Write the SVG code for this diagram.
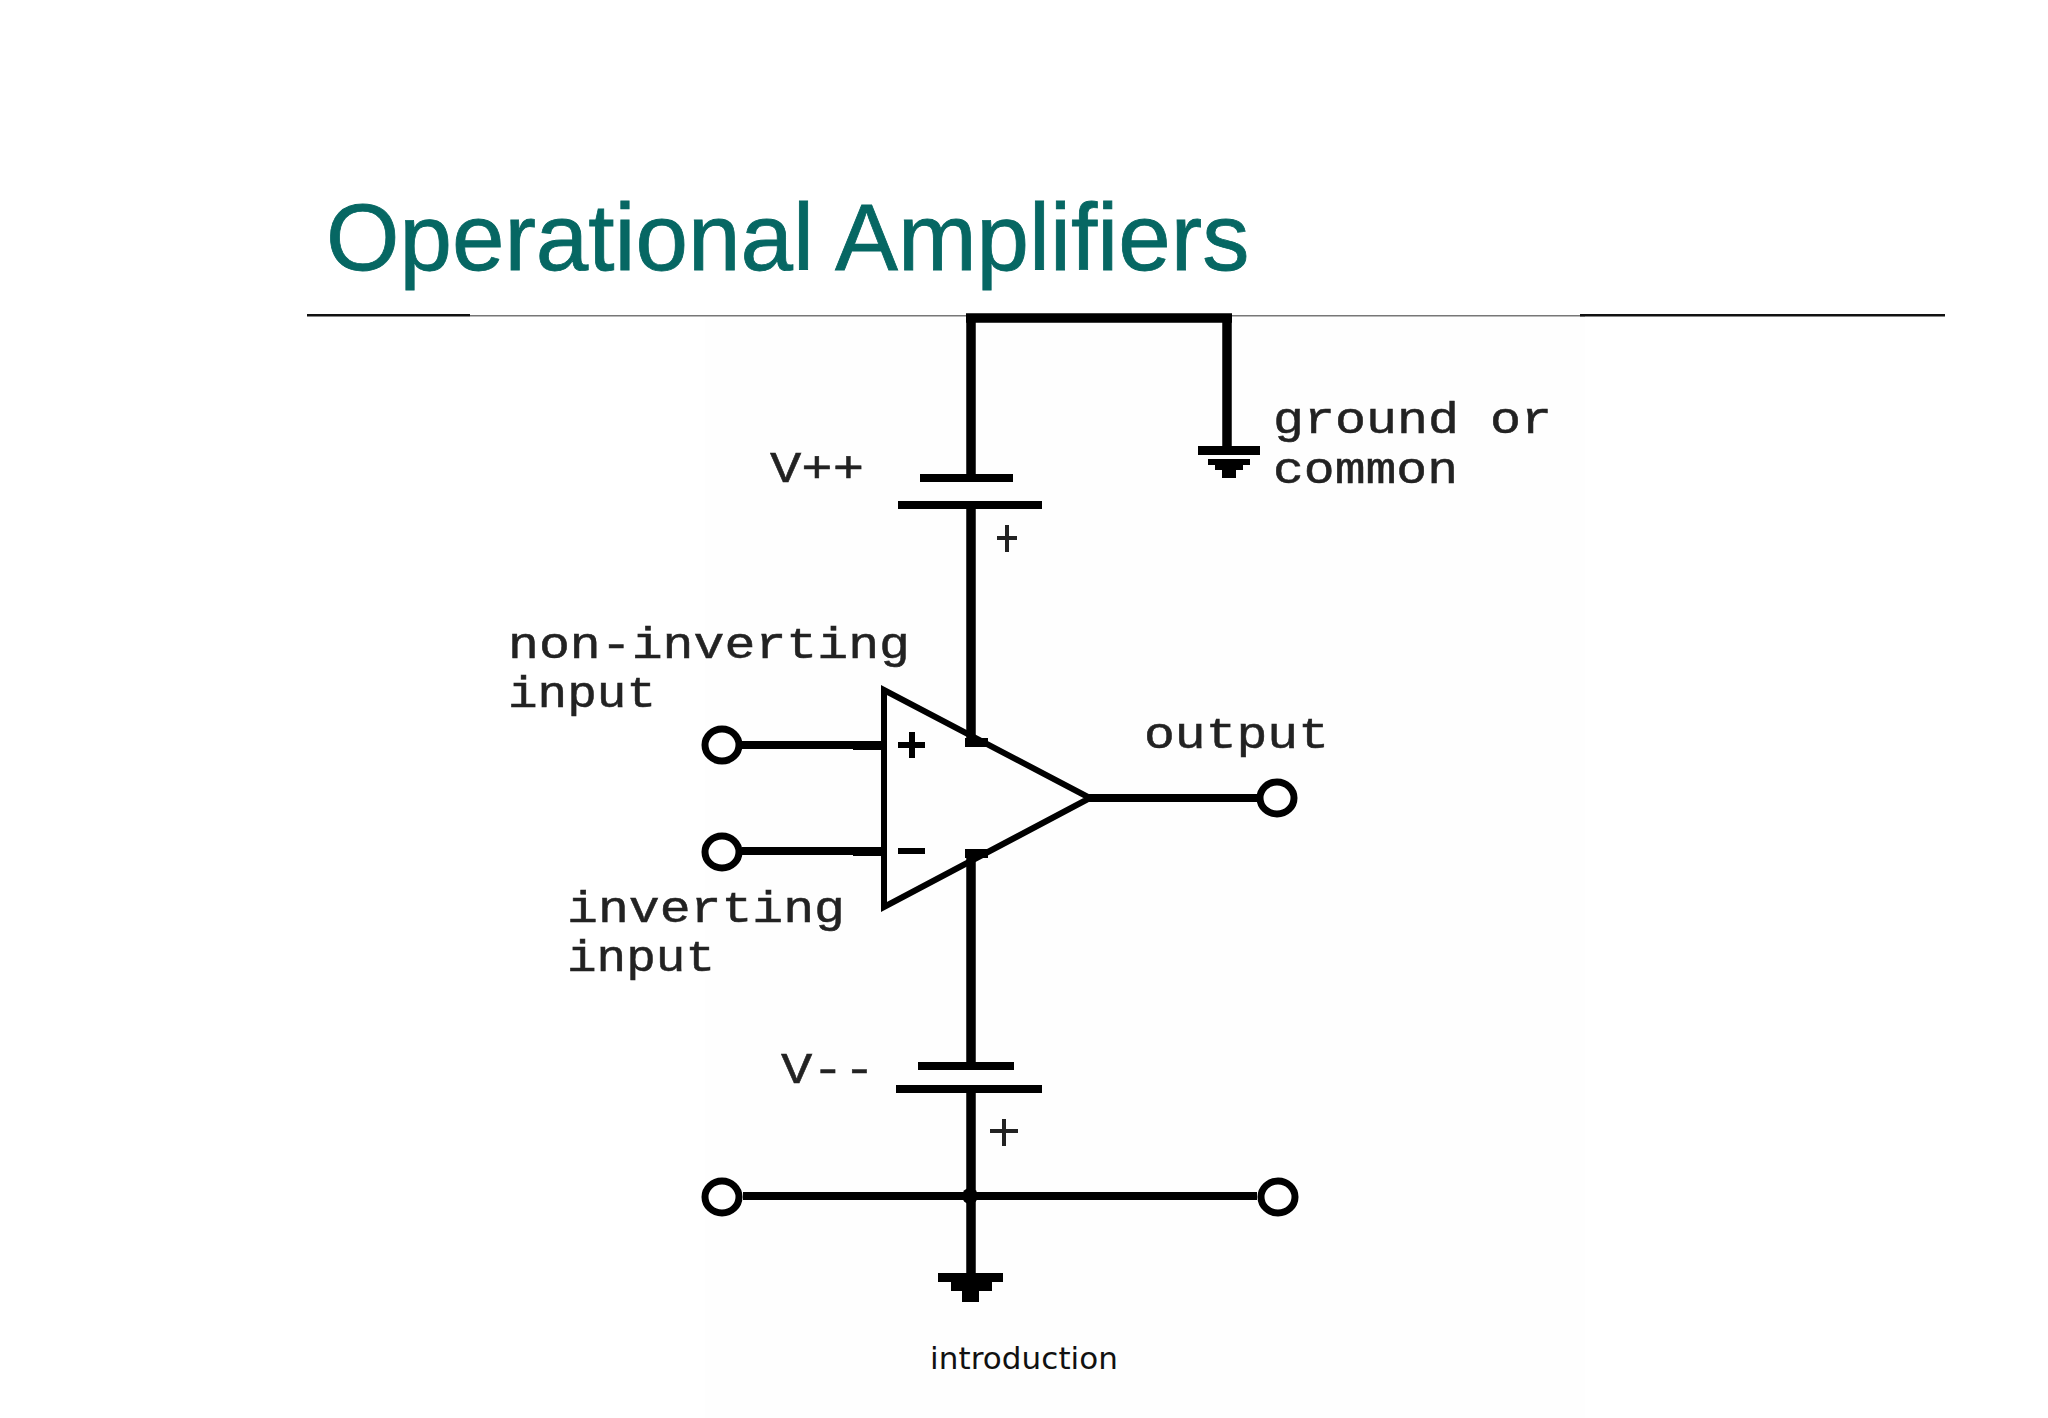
<svg xmlns="http://www.w3.org/2000/svg" width="2048" height="1418" viewBox="0 0 2048 1418">
<defs>
<style>
.w{stroke:#000;fill:none;stroke-width:9.500}
.t{stroke:#000;fill:none;stroke-width:8}
.c{stroke:#000;fill:#fff;stroke-width:7}
.f{fill:#000;stroke:none}
.l{font-family:"Liberation Mono",monospace;font-size:44px;fill:#222;stroke:#222;stroke-width:.5}
</style>
<filter id="soft" x="-5%" y="-5%" width="110%" height="110%"><feGaussianBlur stdDeviation="0.7"/></filter>
</defs>
<rect width="2048" height="1418" fill="#fff"/>
<rect x="705" y="316" width="880" height="1102" fill="#fefefe"/>
<text id="title" x="326" y="270" font-family="'Liberation Sans',Arial,sans-serif" font-size="94.400" fill="#066763" stroke="#066763" stroke-width="0.800">Operational Amplifiers</text>
<g id="rule">
<rect x="307" y="314" width="163" height="2.500" fill="#111"/>
<rect x="470" y="315" width="1115" height="1.500" fill="#777"/>
<rect x="1580" y="314" width="365" height="2.500" fill="#111"/>
</g>
<g filter="url(#soft)">
<g id="connectors">
<path class="w" d="M971 315V476M966 318H1232M1227 315V447M971 508V742M971 855V1064M971 1092V1274"/>
<path class="t" d="M742 745H884M742 851H884M1088 798H1258M743 1196H1257"/>
<rect class="f" x="853" y="741" width="30" height="9"/>
<rect class="f" x="853" y="847" width="30" height="9"/>
</g>
<g id="opamp">
<path d="M884 690V907L1090 798Z" fill="none" stroke="#000" stroke-width="6" stroke-linejoin="miter"/>
<path class="f" d="M965 738H988V747H965ZM965 849H988V858H965Z"/>
<path d="M898 745H925M912 732V758M898 851H925" stroke="#000" stroke-width="6" fill="none"/>
</g>
<g id="cap-top"><rect class="f" x="920" y="474" width="93" height="8"/><rect class="f" x="898" y="501" width="144" height="8"/><path d="M997 538H1017M1007 525V552" stroke="#222" stroke-width="4"/></g>
<g id="cap-bottom"><rect class="f" x="918" y="1062" width="96" height="8"/><rect class="f" x="896" y="1085" width="146" height="8"/><path d="M990 1131H1018M1004 1119V1146" stroke="#222" stroke-width="4"/></g>
<g id="ground-top"><path class="f" d="M1198 446H1260V455H1198ZM1208 459H1250V465H1243V470H1236V478H1222V470H1215V465H1208Z"/></g>
<g id="ground-bottom"><path class="f" d="M938 1273H1003V1282H992V1291H979V1302H962V1291H951V1282H938Z"/></g>
<circle class="f" cx="970" cy="1196" r="8"/>
<g id="terminals">
<ellipse id="t1" class="c" cx="722" cy="745" rx="17" ry="16"/>
<ellipse id="t2" class="c" cx="722" cy="852" rx="17" ry="16"/>
<ellipse id="t3" class="c" cx="1277" cy="798" rx="17" ry="16"/>
<ellipse id="t4" class="c" cx="722" cy="1197" rx="17" ry="16"/>
<ellipse id="t5" class="c" cx="1278" cy="1197" rx="17" ry="16"/>
</g>
<g id="labels">
<text class="l" x="1273" y="433" textLength="279" lengthAdjust="spacingAndGlyphs">ground or</text>
<text class="l" x="1273" y="483" textLength="185" lengthAdjust="spacingAndGlyphs">common</text>
<text class="l" x="770" y="482" textLength="94" lengthAdjust="spacingAndGlyphs">V++</text>
<text class="l" x="781" y="1083" textLength="94" lengthAdjust="spacingAndGlyphs">V--</text>
<text class="l" x="508" y="658" textLength="402" lengthAdjust="spacingAndGlyphs">non-inverting</text>
<text class="l" x="508" y="707" textLength="148" lengthAdjust="spacingAndGlyphs">input</text>
<text class="l" x="567" y="922" textLength="278" lengthAdjust="spacingAndGlyphs">inverting</text>
<text class="l" x="567" y="971" textLength="148" lengthAdjust="spacingAndGlyphs">input</text>
<text class="l" x="1144" y="748" textLength="185" lengthAdjust="spacingAndGlyphs">output</text>
</g>
</g>
<text id="footer" x="930" y="1369" textLength="188" font-family="'DejaVu Sans',Verdana,sans-serif" font-size="31" fill="#111">introduction</text>
</svg>
